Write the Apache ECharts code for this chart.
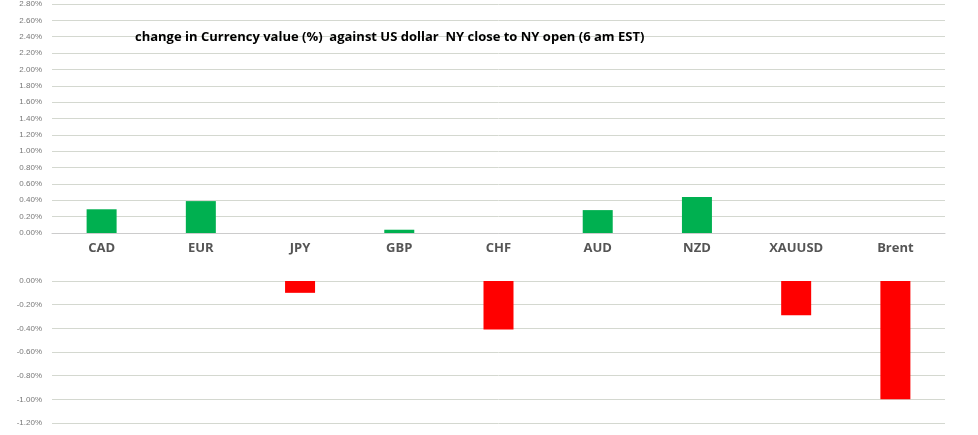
<!DOCTYPE html><html><head><meta charset="utf-8"><script src="https://cdn.jsdelivr.net/npm/echarts@6/dist/echarts.min.js"></script><style>body{margin:0;background:#fff}#c{width:978px;height:435px}</style></head><body><div id="c"></div><script>
const categories=['CAD','EUR','JPY','GBP','CHF','AUD','NZD','XAUUSD','Brent'];
const gains=[0.29,0.39,null,0.04,null,0.28,0.44,null,null];
const losses=[null,null,-0.10,null,-0.41,null,null,-0.29,-1.00];
const title='change in Currency value (%)  against US dollar  NY close to NY open (6 am EST)';
const ch=echarts.init(document.getElementById('c'));
const fmt=v=>v.toFixed(2)+'%';
const yl={fontSize:8,color:'#777',fontFamily:'Liberation Sans',formatter:fmt,margin:10};
ch.setOption({animation:false,
title:{text:title,left:130,top:26,textStyle:{fontSize:13,fontWeight:'bold',color:'#000',fontFamily:'Open Sans'}},
grid:[{left:52,right:33,top:2,height:231},{left:52,right:33,top:281,height:142}],
xAxis:[{gridIndex:0,type:'category',data:categories,axisLine:{lineStyle:{color:'#ccc'}},axisTick:{show:false},axisLabel:{fontSize:13,fontWeight:'bold',color:'#555',margin:9,fontFamily:'Open Sans'}},
{gridIndex:1,type:'category',data:categories,show:false}],
yAxis:[{gridIndex:0,min:0,max:2.8,interval:0.2,axisLabel:yl,splitLine:{lineStyle:{color:'#d4d8d0'}}},
{gridIndex:1,min:-1.2,max:0,interval:0.2,axisLabel:yl,splitLine:{lineStyle:{color:'#d4d8d0'}}}],
series:[{type:'bar',xAxisIndex:0,yAxisIndex:0,data:gains,barWidth:30,itemStyle:{color:'#00b050'}},
{type:'bar',xAxisIndex:1,yAxisIndex:1,data:losses,barWidth:30,itemStyle:{color:'#ff0000'}}]});
</script></body></html>
